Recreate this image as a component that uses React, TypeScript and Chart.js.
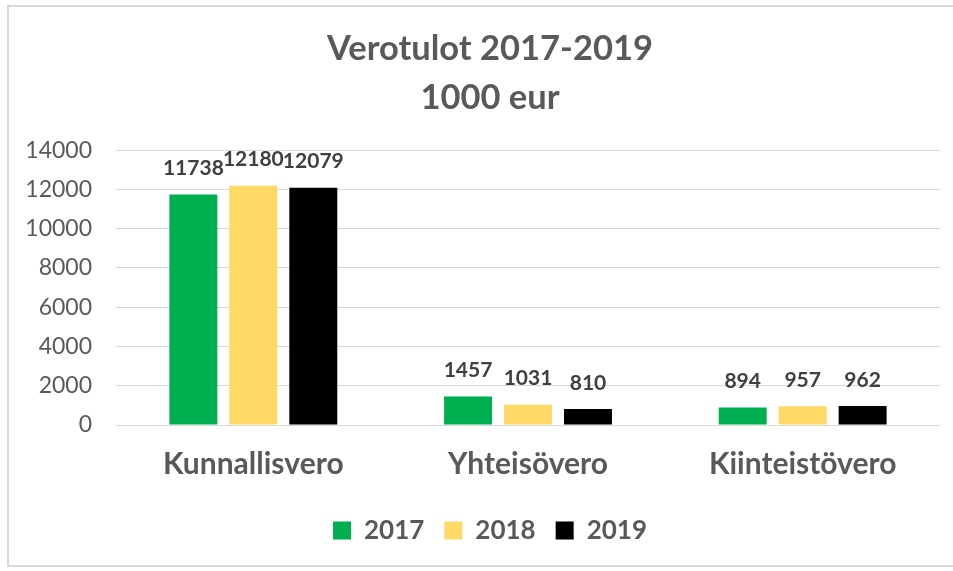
import React, { useEffect, useRef } from "react";
import { Chart, registerables } from "chart.js";

Chart.register(...registerables);

const categories = ["Kunnallisvero", "Yhteisövero", "Kiinteistövero"];
const years = ["2017", "2018", "2019"];
const values2017 = [11738, 1457, 894];
const values2018 = [12180, 1031, 957];
const values2019 = [12079, 810, 962];
const seriesColors = ["#00B050", "#FFD966", "#000000"];
const titleLines = ["Verotulot 2017-2019", "1000 eur"];

const FONT = "Lato, 'Open Sans', sans-serif";

const valueLabels = {
  id: "valueLabels",
  afterDatasetsDraw(chart: any) {
    const ctx = chart.ctx;
    ctx.save();
    ctx.font = `bold 21px ${FONT}`;
    ctx.fillStyle = "#404040";
    ctx.textAlign = "center";
    ctx.textBaseline = "alphabetic";
    chart.data.datasets.forEach((ds: any, di: number) => {
      const meta = chart.getDatasetMeta(di);
      meta.data.forEach((el: any, i: number) => {
        ctx.fillText(String(ds.data[i]), el.x, el.y - 19.5);
      });
    });
    ctx.restore();
  },
};

// shift title and legend so they are centred like the original frame
const centerShift = {
  id: "centerShift",
  afterLayout(chart: any) {
    const dx = 40;
    if (chart.titleBlock) chart.titleBlock.left += dx;
    if (chart.legend) chart.legend.left += dx;
  },
};

export default function App() {
  const ref = useRef<HTMLCanvasElement | null>(null);
  useEffect(() => {
    if (!ref.current) return;
    const allSeries = [values2017, values2018, values2019];
    const chart = new Chart(ref.current, {
      type: "bar",
      data: {
        labels: categories,
        datasets: years.map((y, i) => ({
          label: y,
          data: allSeries[i],
          backgroundColor: seriesColors[i],
          borderWidth: 0,
          categoryPercentage: 0.655,
          barPercentage: 0.8,
        })),
      },
      options: {
        responsive: false,
        animation: false,
        devicePixelRatio: 1,
        layout: { padding: { left: 0, right: 13, top: 0, bottom: 17.5 } },
        plugins: {
          tooltip: { enabled: false },
          title: {
            display: true,
            text: titleLines,
            color: "#595959",
            font: { family: FONT, size: 34.5, weight: "bold", lineHeight: 1.4 },
            padding: { top: 25, bottom: 28.5 },
          },
          legend: {
            display: true,
            position: "bottom",
            labels: {
              color: "#595959",
              font: { family: FONT, size: 26, weight: "bold" },
              boxWidth: 18,
              boxHeight: 18,
              padding: 20,
            },
          },
        },
        scales: {
          x: {
            grid: { display: false, drawTicks: false },
            border: { display: false },
            ticks: {
              color: "#595959",
              font: { family: FONT, size: 30, weight: "bold" },
              padding: 21,
            },
            afterFit(scale: any) {
              scale.height = 72.5;
            },
          },
          y: {
            min: 0,
            max: 14000,
            grid: { color: "#d9d9d9", lineWidth: 1, drawTicks: false },
            border: { display: false },
            ticks: {
              stepSize: 2000,
              color: "#595959",
              font: { family: FONT, size: 23 },
              padding: 24,
              callback: (v: any) => String(v),
            },
            afterFit(scale: any) {
              scale.width = 116;
            },
          },
        },
      },
      plugins: [valueLabels, centerShift],
    });
    return () => chart.destroy();
  }, []);

  return (
    <div style={{ position: "fixed", left: 0, top: 0, width: 953, height: 571, background: "#fff", overflow: "hidden" }}>
      <div
        style={{
          position: "absolute",
          left: 7,
          top: 5,
          width: 980,
          height: 562,
          border: "2px solid #d9d9d9",
          boxSizing: "border-box",
        }}
      />
      <canvas ref={ref} width={953} height={571} style={{ position: "absolute", left: 0, top: 0 }} />
    </div>
  );
}
